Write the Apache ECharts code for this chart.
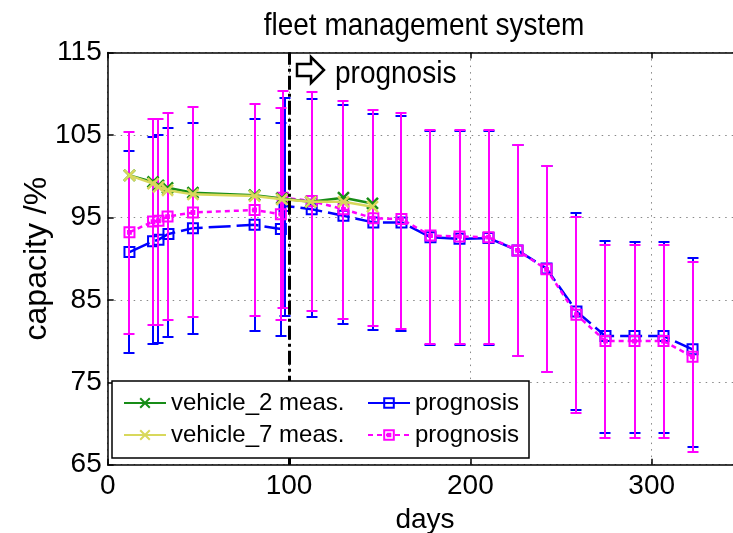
<!DOCTYPE html>
<html>
<head>
<meta charset="utf-8">
<script src="https://cdn.jsdelivr.net/npm/echarts@6/dist/echarts.min.js"></script>
<style>
  html, body { margin: 0; padding: 0; background: #fff; overflow: hidden; }
  #chart { width: 733px; height: 533px; }
</style>
</head>
<body>
<div id="chart"></div>
<script>
// Fonts and colours
const FONT = "'Liberation Sans', Arial, Helvetica, sans-serif";
const GREEN = '#178c17';
const YELLOW = '#d8d85c';
const BLUE = '#0000ff';
const MAGENTA = '#ff00ff';

// Axis tick values
const xTicks = [0, 100, 200, 300];
const yTicks = [65, 75, 85, 95, 105, 115];

// Measured capacity of the two vehicles (days, %)
const measDays = [12, 25, 28, 33, 47, 81, 96, 112, 130, 146];
const vehicle2 = [100.1, 99.3, 98.9, 98.6, 98.0, 97.7, 97.3, 96.9, 97.4, 96.7];
const vehicle7 = [100.1, 99.1, 98.7, 98.3, 97.8, 97.6, 97.2, 96.9, 96.9, 96.3];

// Prognosis of vehicle_2 (mean, lower and upper bound)
const progDays2 = [12, 25, 28, 33.5, 47, 81, 95.5, 97.5, 112.5, 130, 146.5, 162, 178, 194, 210, 226, 242, 258.5, 274.5, 290.5, 306.5, 322.5];
const prog2     = [90.8, 92.1, 92.3, 93.0, 93.7, 94.1, 93.6, 96.4, 96.0, 95.2, 94.4, 94.4, 92.6, 92.4, 92.5, 91.0, 88.8, 83.6, 80.6, 80.6, 80.6, 79.0];
const prog2Low  = [78.5, 79.6, 79.8, 80.5, 80.9, 81.2, 80.6, 83.1, 82.9, 82.1, 81.4, 81.2, 79.5, 79.5, 79.5, 78.2, 76.2, 71.6, 68.8, 68.8, 68.8, 67.2];
const prog2High = [103.1, 104.7, 105.0, 105.8, 106.5, 107.0, 106.5, 109.5, 109.4, 108.6, 107.6, 107.3, 105.5, 105.5, 105.5, 103.8, 101.3, 95.5, 92.1, 92.0, 92.0, 90.1];

// Prognosis of vehicle_7 (mean, lower and upper bound)
const progDays7 = [12, 25, 28, 33, 47, 81, 95.5, 96.5, 112.5, 130, 146.5, 162, 178, 194, 210, 226, 242, 258.5, 274.5, 290.5, 306.5, 322.5];
const prog7     = [93.2, 94.5, 94.6, 95.1, 95.6, 95.9, 95.4, 97.4, 97.0, 96.0, 94.9, 94.8, 92.8, 92.7, 92.6, 91.0, 88.7, 83.2, 80.0, 80.0, 80.0, 78.1];
const prog7Low  = [80.9, 81.9, 81.9, 82.5, 82.9, 83.1, 82.6, 84.0, 83.7, 82.7, 81.8, 81.5, 79.6, 79.6, 79.6, 78.2, 76.2, 71.3, 68.2, 68.2, 68.2, 66.6];
const prog7High = [105.4, 106.9, 106.9, 107.7, 108.4, 108.8, 108.3, 110.4, 110.2, 109.1, 108.0, 107.7, 105.6, 105.6, 105.6, 103.8, 101.2, 95.1, 91.7, 91.6, 91.6, 89.6];

// Day where the prognosis starts
const prognosisStart = 100;

const zip = (xs, ys) => xs.map((x, i) => [x, ys[i]]);
const bars = (xs, lo, hi) => xs.map((x, i) => [x, lo[i], hi[i]]);

const SQUARE = 'path://M0,0H10V10H0Z';
const SQUARE_DOT = 'path://M0,0H10V10H0ZM3.6,3.6H6.4V6.4H3.6Z';
const CROSS = 'path://M0,0L10,10M10,0L0,10';

// Vertical error bar with caps, snapped to whole pixels
function errorBar(color) {
  return function (params, api) {
    const x = api.value(0);
    const top = api.coord([x, api.value(2)]);
    const bot = api.coord([x, api.value(1)]);
    const cx = Math.round(top[0]);
    const ty = Math.round(top[1]);
    const by = Math.round(bot[1]);
    const hw = 5.5;
    const style = { stroke: color, lineWidth: 2, fill: null };
    return {
      type: 'group',
      children: [
        { type: 'line', shape: { x1: cx, y1: ty, x2: cx, y2: by }, style },
        { type: 'line', shape: { x1: cx - hw, y1: ty, x2: cx + hw, y2: ty }, style },
        { type: 'line', shape: { x1: cx - hw, y1: by, x2: cx + hw, y2: by }, style }
      ]
    };
  };
}

const chart = echarts.init(document.getElementById('chart'), null, { renderer: 'canvas' });

const axisLineStyle = { color: '#000', width: 1.5 };
const gridDots = { color: '#888', width: 1, type: [1.5, 5] };

chart.setOption({
  animation: false,
  backgroundColor: '#fff',
  textStyle: { fontFamily: FONT },
  // the plot box runs a little past the right edge of the canvas
  grid: { left: 107.7, width: 634.7, top: 52.6, bottom: 68.3, outerBoundsMode: 'none' },
  xAxis: [
    {
      type: 'value', position: 'bottom', min: 0, max: 350, interval: 100,
      name: 'days', nameLocation: 'middle', nameGap: 42, nameMoveOverlap: false,
      nameTextStyle: { fontFamily: FONT, fontSize: 28, color: '#000' },
      axisLine: { show: true, onZero: false, lineStyle: axisLineStyle },
      axisTick: { show: true, inside: true, length: 6, customValues: xTicks, lineStyle: { color: '#000', width: 1.5 } },
      axisLabel: { show: true, fontFamily: FONT, fontSize: 28, color: '#000', margin: 8, customValues: xTicks },
      splitLine: { show: true, lineStyle: gridDots }
    },
    {
      type: 'value', position: 'top', min: 0, max: 350, interval: 100,
      axisLine: { show: true, onZero: false, lineStyle: axisLineStyle },
      axisTick: { show: true, inside: true, length: 6, customValues: xTicks, lineStyle: { color: '#000', width: 1.5 } },
      axisLabel: { show: false },
      splitLine: { show: false }
    }
  ],
  yAxis: {
    type: 'value', min: 65, max: 115,
    name: 'capacity /%', nameLocation: 'middle', nameGap: 55, nameMoveOverlap: false,
    nameTextStyle: { fontFamily: FONT, fontSize: 32, color: '#000' },
    axisLine: { show: true, onZero: false, lineStyle: axisLineStyle },
    axisTick: { show: true, inside: true, length: 6, customValues: yTicks, lineStyle: { color: '#000', width: 1.5 } },
    axisLabel: { show: true, fontFamily: FONT, fontSize: 28, color: '#000', margin: 6, customValues: yTicks },
    splitLine: { show: true, lineStyle: gridDots }
  },
  legend: [
    {
      orient: 'vertical', left: 123, top: 391, padding: 0, itemGap: 8,
      itemWidth: 42, itemHeight: 12, z: 110,
      textStyle: { fontFamily: FONT, fontSize: 24, color: '#000', lineHeight: 24 },
      data: ['vehicle_2 meas.', 'vehicle_7 meas.'],
      selectedMode: false
    },
    {
      orient: 'vertical', left: 367, top: 391, padding: 0, itemGap: 8,
      itemWidth: 42, itemHeight: 12, z: 110,
      textStyle: { fontFamily: FONT, fontSize: 24, color: '#000', lineHeight: 24 },
      formatter: (name) => name.trim(),
      data: [{ name: 'prognosis', lineStyle: { type: 'solid' } }, 'prognosis '],
      selectedMode: false
    }
  ],
  graphic: [
    {
      // chart title, centred over the plot area
      type: 'text', z: 100, x: 424, y: 26, scaleY: 1.15,
      style: { text: 'fleet management system', fontFamily: FONT, fontSize: 28, fill: '#000', align: 'center', verticalAlign: 'middle' }
    },
    {
      // legend frame
      type: 'rect', z: 100,
      shape: { x: 112, y: 381, width: 417, height: 77 },
      style: { fill: '#fff', stroke: '#000', lineWidth: 1.5 }
    },
    {
      // outlined arrow marking the start of the prognosis
      type: 'polygon', z: 100,
      shape: { points: [[297, 64], [311, 64], [311, 57], [324, 70], [311, 83], [311, 76], [297, 76]] },
      style: { fill: '#fff', stroke: '#000', lineWidth: 2.5, lineJoin: 'miter' }
    },
    {
      type: 'text', z: 100, x: 335, y: 74, scaleY: 1.15,
      style: { text: 'prognosis', fontFamily: FONT, fontSize: 28, fill: '#000', verticalAlign: 'middle', align: 'left' }
    }
  ],
  series: [
    {
      type: 'custom', name: 'bounds vehicle_2', z: 2, silent: true,
      renderItem: errorBar(BLUE),
      encode: { x: 0, y: [1, 2] },
      data: bars(progDays2, prog2Low, prog2High)
    },
    {
      type: 'line', name: 'prognosis', z: 3,
      data: zip(progDays2, prog2),
      symbol: SQUARE, symbolSize: 10,
      itemStyle: { color: 'transparent', borderColor: BLUE, borderWidth: 2 },
      lineStyle: { color: BLUE, width: 2.5, type: [22, 6] }
    },
    {
      type: 'custom', name: 'bounds vehicle_7', z: 4, silent: true,
      renderItem: errorBar(MAGENTA),
      encode: { x: 0, y: [1, 2] },
      data: bars(progDays7, prog7Low, prog7High)
    },
    {
      type: 'line', name: 'prognosis ', z: 5,
      data: zip(progDays7, prog7),
      symbol: SQUARE_DOT, symbolSize: 10,
      itemStyle: { color: 'transparent', borderColor: MAGENTA, borderWidth: 2 },
      lineStyle: { color: MAGENTA, width: 2.5, type: [5, 4] }
    },
    {
      type: 'line', name: 'vehicle_2 meas.', z: 6,
      data: zip(measDays, vehicle2),
      symbol: CROSS, symbolSize: 11,
      itemStyle: { color: 'transparent', borderColor: GREEN, borderWidth: 2.5 },
      lineStyle: { color: GREEN, width: 2.5 }
    },
    {
      type: 'line', name: 'vehicle_7 meas.', z: 7,
      data: zip(measDays, vehicle7),
      symbol: CROSS, symbolSize: 11,
      itemStyle: { color: 'transparent', borderColor: YELLOW, borderWidth: 2.5 },
      lineStyle: { color: YELLOW, width: 2.5 },
      markLine: {
        silent: true, symbol: 'none', z: 8,
        label: { show: false },
        lineStyle: { color: '#000', width: 3, type: [14, 4, 3, 4] },
        data: [{ xAxis: prognosisStart }]
      }
    }
  ]
});
</script>
</body>
</html>
